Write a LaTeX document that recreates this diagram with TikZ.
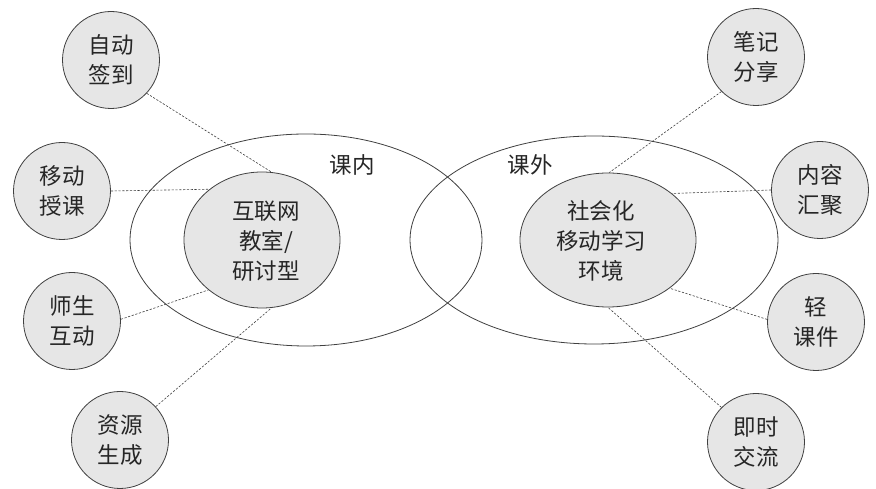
\documentclass[tikz,border=0pt]{standalone}
\usepackage{fontspec}
\setmainfont{Noto Sans CJK SC}
\usetikzlibrary{shapes.geometric}
\definecolor{fillgray}{HTML}{E6E6E6}
\definecolor{linegray}{HTML}{404040}
\begin{document}
\begin{tikzpicture}[x=1pt,y=1pt,
  txt/.style={font=\fontsize{22.5}{30}\selectfont, align=center, text=black!85},
  outerell/.style={ellipse, draw=linegray, line width=0.8pt, inner sep=0pt},
  innerell/.style={ellipse, draw=linegray, line width=0.8pt, fill=fillgray, inner sep=0pt, txt},
  leaf/.style={circle, draw=linegray, line width=0.8pt, fill=fillgray, inner sep=0pt, minimum size=97pt, txt},
  link/.style={draw=linegray, line width=0.6pt, dash pattern=on 2.2pt off 1.6pt}]
\useasboundingbox (0,0) rectangle (876,489);
\fill[white] (0,0) rectangle (876,489);
% outer ellipses
\node[outerell, minimum width=352pt, minimum height=212pt] (outL) at (306,249) {};
\node[outerell, minimum width=368pt, minimum height=208pt] (outR) at (594,249) {};
% labels
\node[txt] (lin) at (352,324) {课内};
\node[txt] (lout) at (530,324) {课外};
% inner ellipses
\node[innerell, minimum width=156pt, minimum height=136pt] (inL) at (262,249) {};
\node[txt] (inLt) at (266,248) {互联网\\教室/\\研讨型};
\node[innerell, minimum width=176pt, minimum height=134pt] (inR) at (608,249) {};
\node[txt] (inRt) at (601,248) {社会化\\移动学习\\环境};
% leaves
\node[leaf] (a1) at (111,429) {自动\\签到};
\node[leaf] (a2) at (62,298) {移动\\授课};
\node[leaf] (a3) at (72,168) {师生\\互动};
\node[leaf] (a4) at (120,49) {资源\\生成};
\node[leaf] (b1) at (756,432) {笔记\\分享};
\node[leaf] (b2) at (820,299) {内容\\汇聚};
\node[leaf] (b3) at (816,167) {轻\\课件};
\node[leaf] (b4) at (756,47) {即时\\交流};
% links
\draw[link] (a1.317) -- (inL.82);
\draw[link] (a2.0) -- (inL.136);
\draw[link] (a3.2) -- (inL.223);
\draw[link] (a4.43) -- (inL.278);
\draw[link] (b1.225) -- (inR.89);
\draw[link] (b2.180) -- (inR.36);
\draw[link] (b3.177) -- (inR.322);
\draw[link] (b4.135) -- (inR.270);
\end{tikzpicture}
\end{document}
